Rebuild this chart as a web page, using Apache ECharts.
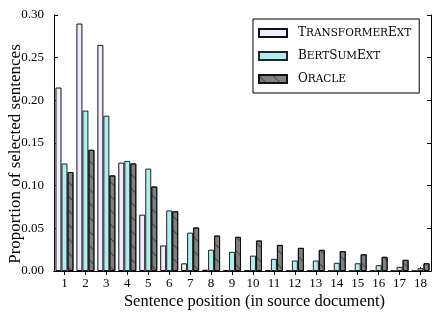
<!DOCTYPE html>
<html>
<head>
<meta charset="utf-8">
<script src="https://cdn.jsdelivr.net/npm/echarts@6/dist/echarts.min.js"></script>
<style>
html,body{margin:0;padding:0;background:#fff;}
#chart{width:436px;height:315px;}
</style>
</head>
<body>
<div id="chart"></div>
<script>
var categories = ['1','2','3','4','5','6','7','8','9','10','11','12','13','14','15','16','17','18'];
var transformerExt = [0.215, 0.290, 0.265, 0.127, 0.066, 0.030, 0.009, 0.0015, 0.0008, 0.0005, 0.0005, 0.0004, 0.0004, 0.0003, 0.0003, 0.0002, 0.0002, 0.0002];
var bertSumExt = [0.126, 0.188, 0.182, 0.129, 0.120, 0.071, 0.045, 0.025, 0.0225, 0.018, 0.0143, 0.0123, 0.0123, 0.0096, 0.0091, 0.0068, 0.0049, 0.0033];
var oracle = [0.116, 0.142, 0.112, 0.126, 0.099, 0.070, 0.051, 0.0415, 0.040, 0.0357, 0.0306, 0.0271, 0.0248, 0.0232, 0.0196, 0.0166, 0.0131, 0.0091];
var seriesNames = ['TransformerExt', 'BertSumExt', 'Oracle'];
var legendLabels = {
  'TransformerExt': '{b|T}{s|RANSFORMER}{b|E}{s|XT}',
  'BertSumExt': '{b|B}{s|ERT}{b|S}{s|UM}{b|E}{s|XT}',
  'Oracle': '{b|O}{s|RACLE}'
};
var yLabelText = 'Proportion of selected sentences';
var xLabelText = 'Sentence position (in source document)';

var serif = '"Liberation Serif", "DejaVu Serif", serif';
var chart = echarts.init(document.getElementById('chart'), null, {renderer: 'canvas'});

var axisLine = {show: true, lineStyle: {color: '#000', width: 1}};
var option = {
  animation: false,
  backgroundColor: '#fff',
  grid: {left: 54, right: 5, top: 15, bottom: 44, containLabel: false, outerBoundsMode: 'none'},
  legend: {
    orient: 'vertical',
    left: 253, top: 19,
    padding: [8, 8, 8, 5],
    itemWidth: 28, itemHeight: 8, itemGap: 11,
    borderColor: '#000', borderWidth: 1, borderRadius: 0,
    backgroundColor: '#fff',
    icon: 'rect',
    data: seriesNames,
    formatter: function (n) { return legendLabels[n]; },
    textStyle: {
      color: '#000', fontFamily: '"DejaVu Serif", serif', padding: [0, 0, 0, 6],
      rich: {
        b: {fontSize: 12, fontFamily: '"DejaVu Serif", serif', color: '#000', verticalAlign: 'bottom'},
        s: {fontSize: 10.5, fontFamily: '"DejaVu Serif", serif', color: '#000', verticalAlign: 'bottom'}
      }
    }
  },
  xAxis: [{
    type: 'category', data: categories, position: 'bottom',
    axisLine: axisLine,
    axisTick: {show: true, inside: true, alignWithLabel: true, length: 4, lineStyle: {color: '#000'}},
    axisLabel: {color: '#000', fontFamily: serif, fontSize: 13, margin: 6},
    name: xLabelText, nameLocation: 'middle', nameGap: 22, nameMoveOverlap: false,
    nameTextStyle: {color: '#000', fontFamily: serif, fontSize: 16.5, padding: [0, 0, 0, 24]}
  }, {
    type: 'category', data: categories, position: 'top',
    axisLine: axisLine,
    axisTick: {show: true, inside: true, alignWithLabel: true, length: 4, lineStyle: {color: '#000'}},
    axisLabel: {show: false}
  }],
  yAxis: [{
    type: 'value', min: 0, max: 0.30, interval: 0.05, position: 'left',
    axisLine: axisLine,
    axisTick: {show: true, inside: true, length: 4, lineStyle: {color: '#000'}},
    splitLine: {show: false},
    axisLabel: {color: '#000', fontFamily: serif, fontSize: 13, margin: 10,
      formatter: function (v) { return v.toFixed(2); }},
    name: yLabelText, nameLocation: 'middle', nameGap: 30, nameRotate: 90, nameMoveOverlap: false,
    nameTextStyle: {color: '#000', fontFamily: serif, fontSize: 17, padding: [0, 22, 0, 0]}
  }, {
    type: 'value', min: 0, max: 0.30, interval: 0.05, position: 'right',
    axisLine: axisLine,
    axisTick: {show: true, inside: true, length: 4, lineStyle: {color: '#000'}},
    splitLine: {show: false},
    axisLabel: {show: false}
  }],
  series: [{
    name: seriesNames[0], type: 'bar', data: transformerExt,
    barWidth: 6, barGap: '0%',
    itemStyle: {color: '#eeeeff', borderColor: '#111', borderWidth: 1}
  }, {
    name: seriesNames[1], type: 'bar', data: bertSumExt,
    barWidth: 6, barGap: '0%',
    itemStyle: {color: '#afeeee', borderColor: '#222', borderWidth: 1}
  }, {
    name: seriesNames[2], type: 'bar', data: oracle,
    barWidth: 6, barGap: '0%',
    itemStyle: {color: '#808080', borderColor: '#111', borderWidth: 1,
      decal: {symbol: 'rect', symbolSize: 1, color: 'rgba(50,50,50,0.75)',
        dashArrayX: [1, 0], dashArrayY: [1, 9], rotation: Math.PI / 4}}
  }]
};
chart.setOption(option);
</script>
</body>
</html>
